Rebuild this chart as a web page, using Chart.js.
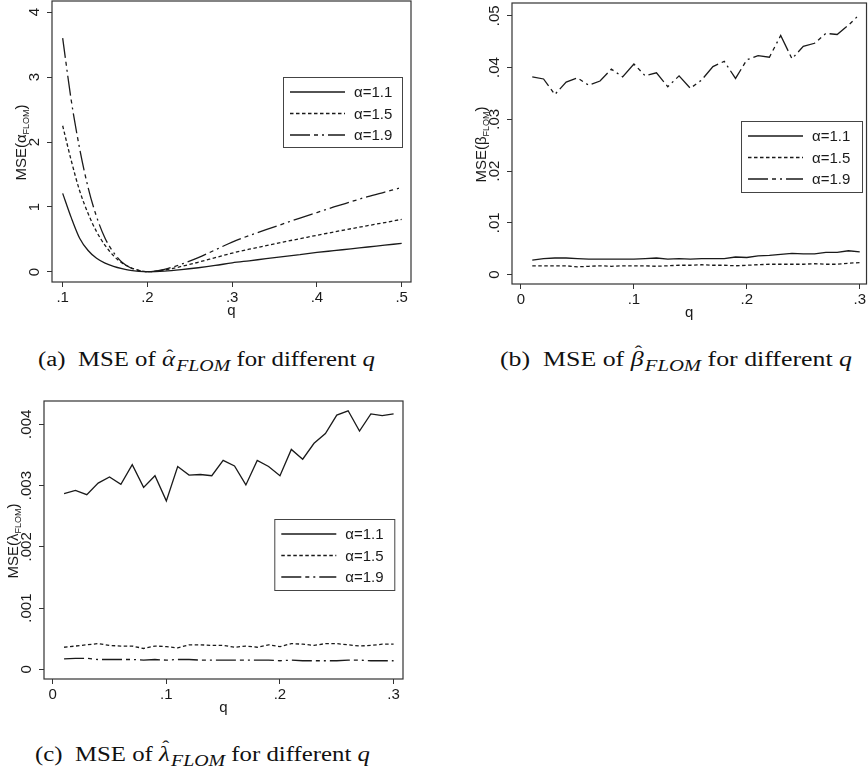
<!DOCTYPE html>
<html>
<head>
<meta charset="utf-8">
<script src="https://cdn.jsdelivr.net/npm/chart.js@4.4.1/dist/chart.umd.min.js"></script>
<style>
  html, body { margin: 0; padding: 0; background: #fff; }
  body { width: 868px; height: 775px; position: relative; overflow: hidden; }
  .panel { position: absolute; }
  .cap {
    position: absolute; white-space: nowrap; line-height: 1;
    font-family: "Liberation Serif", "DejaVu Serif", serif; font-size: 20px; color: #111;
    transform-origin: 0 0;
  }
  .cap sub { font-style: italic; font-size: 0.8em; vertical-align: -0.32em; margin-left: 1px; }
  .cap i { font-style: italic; }
  .acc { position: relative; display: inline-block; font-style: italic; }
  .hat { position: absolute; left: 2px; right: 0; text-align: center; font-style: normal; font-size: 0.85em; top: -0.12em; }
  .hat.tall { top: -0.36em; }
</style>
</head>
<body>
<div class="panel" style="left:0;top:0"><canvas id="chartA" width="430" height="330"></canvas></div>
<div class="panel" style="left:440px;top:0"><canvas id="chartB" width="428" height="330"></canvas></div>
<div class="panel" style="left:0;top:395px"><canvas id="chartC" width="430" height="330"></canvas></div>

<div class="cap" data-w="337" style="left:38px;top:349px">(a)&nbsp; MSE of <span class="acc">α<span class="hat">ˆ</span></span><sub>FLOM</sub> for different <i>q</i></div>
<div class="cap" data-w="352" style="left:500px;top:349px">(b)&nbsp; MSE of <span class="acc">β<span class="hat tall">ˆ</span></span><sub>FLOM</sub> for different <i>q</i></div>
<div class="cap" data-w="335" style="left:35px;top:744px">(c)&nbsp; MSE of <span class="acc">λ<span class="hat tall">ˆ</span></span><sub>FLOM</sub> for different <i>q</i></div>

<script>
// series names
const seriesLabels = ['α=1.1', 'α=1.5', 'α=1.9'];

// panel (a): MSE of alpha
const qA = [0.10, 0.11, 0.12, 0.13, 0.14, 0.15, 0.16, 0.17, 0.18, 0.19, 0.20,
            0.22, 0.24, 0.26, 0.28, 0.30, 0.32, 0.34, 0.36, 0.38, 0.40,
            0.42, 0.44, 0.46, 0.48, 0.50];
const alphaMse11 = [1.21, 0.84, 0.52, 0.33, 0.21, 0.135, 0.085, 0.05, 0.025, 0.01, 0.003,
                    0.012, 0.035, 0.065, 0.10, 0.14, 0.172, 0.204, 0.236, 0.268, 0.30,
                    0.328, 0.356, 0.384, 0.412, 0.44];
const alphaMse15 = [2.25, 1.72, 1.25, 0.90, 0.62, 0.41, 0.25, 0.14, 0.07, 0.025, 0.004,
                    0.03, 0.085, 0.15, 0.22, 0.29, 0.35, 0.405, 0.46, 0.512, 0.565,
                    0.615, 0.665, 0.713, 0.76, 0.81];
const alphaMse19 = [3.60, 2.65, 1.90, 1.30, 0.85, 0.52, 0.30, 0.15, 0.065, 0.02, 0.004,
                    0.04, 0.12, 0.22, 0.34, 0.46, 0.56, 0.65, 0.74, 0.83, 0.915,
                    1.00, 1.08, 1.16, 1.23, 1.30];

// panels (b) and (c): q grid
const qB = [0.01, 0.02, 0.03, 0.04, 0.05, 0.06, 0.07, 0.08, 0.09, 0.10,
            0.11, 0.12, 0.13, 0.14, 0.15, 0.16, 0.17, 0.18, 0.19, 0.20,
            0.21, 0.22, 0.23, 0.24, 0.25, 0.26, 0.27, 0.28, 0.29, 0.30];

// panel (b): MSE of beta
const betaMse11 = [0.0028, 0.0031, 0.0032, 0.0032, 0.0031, 0.0030, 0.0030, 0.0030, 0.0030, 0.0030,
                   0.0031, 0.0032, 0.0030, 0.0031, 0.0030, 0.0031, 0.0031, 0.0031, 0.0034, 0.0033,
                   0.0036, 0.0037, 0.0039, 0.0041, 0.0040, 0.0040, 0.0043, 0.0043, 0.0046, 0.0044];
const betaMse15 = [0.0017, 0.0017, 0.0017, 0.0017, 0.0015, 0.0016, 0.0017, 0.0016, 0.0017, 0.0017,
                   0.0017, 0.0016, 0.0017, 0.0018, 0.0018, 0.0019, 0.0018, 0.0018, 0.0017, 0.0018,
                   0.0019, 0.0020, 0.0020, 0.0020, 0.0020, 0.0021, 0.0020, 0.0020, 0.0022, 0.0023];
const betaMse19 = [0.0382, 0.0378, 0.0348, 0.0372, 0.0380, 0.0366, 0.0374, 0.0397, 0.0382, 0.0407,
                   0.0384, 0.0390, 0.0363, 0.0384, 0.0360, 0.0376, 0.0402, 0.0412, 0.0379, 0.0415,
                   0.0423, 0.0420, 0.0462, 0.0417, 0.0441, 0.0447, 0.0466, 0.0464, 0.0482, 0.0503];

// panel (c): MSE of lambda
const lambdaMse11 = [0.00287, 0.00292, 0.00285, 0.00304, 0.00314, 0.00302, 0.00334, 0.00297, 0.00316, 0.00275,
                     0.00331, 0.00317, 0.00318, 0.00316, 0.00341, 0.00332, 0.00301, 0.00341, 0.00331, 0.00316,
                     0.00359, 0.00343, 0.00369, 0.00385, 0.00415, 0.00422, 0.00389, 0.00417, 0.00414, 0.00417];
const lambdaMse15 = [0.00036, 0.00038, 0.00040, 0.00042, 0.00039, 0.00038, 0.00038, 0.00034, 0.00038, 0.00037,
                     0.00035, 0.00040, 0.00040, 0.00039, 0.00039, 0.00036, 0.00038, 0.00036, 0.00040, 0.00037,
                     0.00042, 0.00041, 0.00039, 0.00042, 0.00042, 0.00040, 0.00038, 0.00039, 0.00041, 0.00041];
const lambdaMse19 = [0.00017, 0.00018, 0.00018, 0.00016, 0.00016, 0.00016, 0.00016, 0.00015, 0.00016, 0.00015,
                     0.00016, 0.00016, 0.00015, 0.00015, 0.00015, 0.00015, 0.00015, 0.00015, 0.00015, 0.00014,
                     0.00015, 0.00014, 0.00014, 0.00014, 0.00014, 0.00015, 0.00015, 0.00014, 0.00014, 0.00014];

// tick values and their labels
const xTicksA = [0.1, 0.2, 0.3, 0.4, 0.5];
const xLabelsA = ['.1', '.2', '.3', '.4', '.5'];
const yTicksA = [0, 1, 2, 3, 4];
const yLabelsA = ['0', '1', '2', '3', '4'];
const xTicksBC = [0, 0.1, 0.2, 0.3];
const xLabelsBC = ['0', '.1', '.2', '.3'];
const yTicksB = [0, 0.01, 0.02, 0.03, 0.04, 0.05];
const yLabelsB = ['0', '.01', '.02', '.03', '.04', '.05'];
const yTicksC = [0, 0.001, 0.002, 0.003, 0.004];
const yLabelsC = ['0', '.001', '.002', '.003', '.004'];

const dashes = [[], [3.5, 2.5], [20, 4, 4, 4, 2, 4]];
const SANS = '"Liberation Sans", Arial, Helvetica, sans-serif';
const INK = '#1a1a1a';

// box, rotated y tick labels, axis titles and the legend box
const panelPlugin = {
  id: 'panel',
  afterDraw(chart, args, o) {
    const ctx = chart.ctx, ca = chart.chartArea;
    const ys = chart.scales.y;
    ctx.save();
    ctx.strokeStyle = '#333';
    ctx.lineWidth = 1.2;
    ctx.strokeRect(ca.left, ca.top, ca.right - ca.left, ca.bottom - ca.top);

    ctx.fillStyle = INK;
    ctx.font = '15px ' + SANS;
    ctx.textAlign = 'center';
    ctx.textBaseline = 'alphabetic';
    o.yTicks.forEach((v, i) => {
      ctx.save();
      ctx.translate(ca.left - 13.5, ys.getPixelForValue(v));
      ctx.rotate(-Math.PI / 2);
      ctx.fillText(o.yLabels[i], 0, 0);
      ctx.restore();
    });

    // x title
    ctx.fillText('q', (ca.left + ca.right) / 2, ca.bottom + 33);

    // y title MSE(x_FLOM)
    const parts = [
      { t: 'MSE(', f: '15px ' + SANS, dy: 0 },
      { t: o.greek, f: '15px ' + SANS, dy: 0 },
      { t: 'FLOM', f: '9px ' + SANS, dy: 3 },
      { t: ')', f: '15px ' + SANS, dy: 0 }
    ];
    let total = 0;
    parts.forEach(p => { ctx.font = p.f; p.w = ctx.measureText(p.t).width; total += p.w; });
    ctx.save();
    ctx.translate(ca.left - 26.5, (ca.top + ca.bottom) / 2 + 1);
    ctx.rotate(-Math.PI / 2);
    ctx.textAlign = 'left';
    let x = -total / 2;
    parts.forEach(p => { ctx.font = p.f; ctx.fillText(p.t, x, p.dy); x += p.w; });
    ctx.restore();

    // legend
    const L = o.legend;
    const bx = ca.right - L.right - L.w, by = ca.top + L.top;
    ctx.fillStyle = '#fff';
    ctx.fillRect(bx, by, L.w, L.h);
    ctx.strokeStyle = '#444';
    ctx.lineWidth = 1;
    ctx.strokeRect(bx + 0.5, by + 0.5, L.w, L.h);
    chart.data.datasets.forEach((ds, i) => {
      const ry = by + 15 + i * 21.5;
      ctx.strokeStyle = INK;
      ctx.lineWidth = 1.3;
      ctx.setLineDash(ds.borderDash);
      ctx.beginPath();
      ctx.moveTo(bx + 7, ry);
      ctx.lineTo(bx + 62, ry);
      ctx.stroke();
      ctx.setLineDash([]);
      ctx.fillStyle = INK;
      ctx.textAlign = 'left';
      ctx.textBaseline = 'middle';
      ctx.font = '15px ' + SANS;
      ctx.fillText(ds.label, bx + 71, ry + 1);
    });
    ctx.restore();
  }
};

function makeChart(id, c) {
  const datasets = c.series.map((s, i) => ({
    label: seriesLabels[i],
    data: c.q.map((q, j) => ({ x: q, y: s[j] })),
    borderColor: INK,
    borderWidth: 1.3,
    borderDash: dashes[i],
    pointRadius: 0,
    fill: false,
    cubicInterpolationMode: c.smooth ? 'monotone' : 'default',
    tension: 0
  }));
  const tickGrid = { drawOnChartArea: false, drawTicks: true, tickLength: 5, color: '#333', lineWidth: 1 };
  return new Chart(document.getElementById(id), {
    type: 'line',
    data: { datasets },
    options: {
      responsive: false,
      animation: false,
      layout: { padding: c.pad },
      plugins: {
        legend: { display: false },
        tooltip: { enabled: false },
        panel: { yTicks: c.yTicks, yLabels: c.yLabels, greek: c.greek, legend: c.legend }
      },
      scales: {
        x: {
          type: 'linear', min: c.xMin, max: c.xMax,
          border: { display: false },
          grid: tickGrid,
          afterBuildTicks: s => { s.ticks = c.xTicks.map(v => ({ value: v })); },
          afterFit: s => { s.height = c.xH; },
          ticks: {
            color: INK, padding: 2, maxRotation: 0,
            font: { family: SANS, size: 15 },
            callback: (v, i) => c.xLabels[i]
          }
        },
        y: {
          type: 'linear', min: c.yMin, max: c.yMax,
          border: { display: false },
          grid: tickGrid,
          afterBuildTicks: s => { s.ticks = c.yTicks.map(v => ({ value: v })); },
          afterFit: s => { s.width = c.yW; },
          ticks: { display: false }
        }
      }
    },
    plugins: [panelPlugin]
  });
}

makeChart('chartA', {
  q: qA, series: [alphaMse11, alphaMse15, alphaMse19], smooth: true,
  xMin: 0.0874, xMax: 0.511, yMin: -0.1544, yMax: 4.17,
  xTicks: xTicksA, xLabels: xLabelsA, yTicks: yTicksA, yLabels: yLabelsA,
  pad: { left: 0, top: 1, right: 19, bottom: 0 }, yW: 52, xH: 48, greek: 'α',
  legend: { right: 9, top: 76, w: 119, h: 70 }
});

makeChart('chartB', {
  q: qB, series: [betaMse11, betaMse15, betaMse19], smooth: false,
  xMin: -0.00795, xMax: 0.306, yMin: -0.00182, yMax: 0.05248,
  xTicks: xTicksBC, xLabels: xLabelsBC, yTicks: yTicksB, yLabels: yLabelsB,
  pad: { left: 0, top: 3, right: 0.5, bottom: 0 }, yW: 72, xH: 46, greek: 'β',
  legend: { right: 4.5, top: 118, w: 121, h: 71 }
});

makeChart('chartC', {
  q: qB, series: [lambdaMse11, lambdaMse15, lambdaMse19], smooth: false,
  xMin: -0.00766, xMax: 0.30828, yMin: -0.000158, yMax: 0.00438,
  xTicks: xTicksBC, xLabels: xLabelsBC, yTicks: yTicksC, yLabels: yLabelsC,
  pad: { left: 0, top: 6, right: 27, bottom: 0 }, yW: 44, xH: 46, greek: 'λ',
  legend: { right: 8.7, top: 118, w: 120, h: 71 }
});

// stretch captions to the measured widths of the reference
document.querySelectorAll('.cap').forEach(el => {
  const w = el.getBoundingClientRect().width;
  el.style.transform = 'scaleX(' + (parseFloat(el.dataset.w) / w) + ')';
});
</script>
</body>
</html>
